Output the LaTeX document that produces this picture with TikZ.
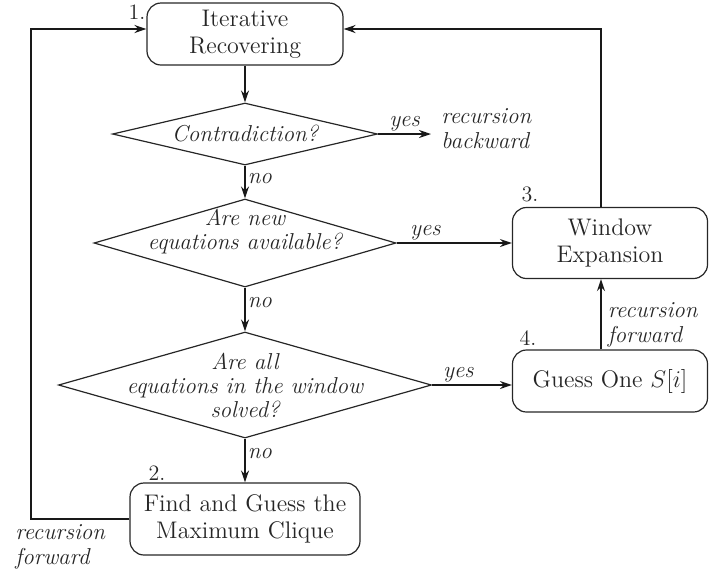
\documentclass[tikz,border=0pt]{standalone}
\usepackage{amsmath}
\usepackage{tikz}
\usetikzlibrary{shapes.geometric,arrows.meta}

\begin{document}
\begin{tikzpicture}[x=0.5pt,y=-0.5pt,
    every node/.style={font=\fontsize{12}{13.5}\selectfont, text=black!85},
    stepbox/.style={draw=black!85, rounded corners=7pt, line width=0.6pt, align=center, inner sep=0pt},
    decision/.style={draw=black!85, diamond, line width=0.6pt, inner sep=0pt},
    qtext/.style={font=\fontsize{11.5}{12}\selectfont\itshape, align=center, inner sep=0pt},
    tag/.style={font=\fontsize{11.5}{12.5}\selectfont\itshape, align=left, inner sep=1pt},
    num/.style={font=\fontsize{11}{12}\selectfont, inner sep=0pt},
    flow/.style={draw=black!90, -{Stealth[length=6pt,width=4pt]}, line width=0.8pt}]
        \useasboundingbox (0,0) rectangle (712,575);
        % Steps
        \node[stepbox, minimum width=98pt, minimum height=31pt] (iter) at (245,34) {Iterative\\Recovering};
        \node[stepbox, minimum width=115pt, minimum height=36pt] (clique) at (245,519) {Find and Guess the\\Maximum Clique};
        \node[stepbox, minimum width=97.5pt, minimum height=35.5pt] (window) at (610,243) {Window\\Expansion};
        \node[stepbox, minimum width=97.5pt, minimum height=31pt] (guess) at (610,381) {Guess One $S[i]$};
        \node[num] (n1) at (137,12) {1.};
        \node[num] (n2) at (157,473) {2.};
        \node[num] (n3) at (530,194) {3.};
        \node[num] (n4) at (528,338) {4.};
        % Decisions
        \node[decision, minimum width=132.5pt, minimum height=31pt] (q1) at (245,134) {};
        \node[qtext] (q1t) at (q1) {Contradiction?};
        \node[decision, minimum width=151pt, minimum height=44pt] (q2) at (245,243) {};
        \node[qtext] (q2t) at (245,232) {Are new\\equations available?};
        \node[decision, minimum width=186.5pt, minimum height=53pt] (q3) at (245,385) {};
        \node[qtext] (q3t) at (q3) {Are all\\equations in the window\\solved?};
        \node[tag, anchor=west] (back) at (439,129) {recursion\\backward};
        \coordinate (backend) at (431,134);
        %Arrows
        \draw[flow] (iter) -- (q1);
        \draw[flow] (q1.east) -- (backend) node[tag, midway, above] {yes};
        \draw[flow] (q1) -- (q2) node[tag, pos=0.4, right] {no};
        \draw[flow] (q2.east) -- (window.west) node[tag, pos=0.25, above] {yes};
        \draw[flow] (q2) -- (q3) node[tag, pos=0.35, right] {no};
        \draw[flow] (q3.east) -- (q3.east -| guess.west) node[tag, pos=0.33, above] {yes};
        \draw[flow] (q3) -- (clique) node[tag, pos=0.35, right] {no};
        \draw[flow] ([xshift=-4.5pt]guess.north) -- ([xshift=-4.5pt]window.south)
        node[tag, pos=0.35, right, xshift=2pt] {recursion\\forward};
        % Loops
        \draw[flow, line width=1pt] ([xshift=-4.5pt]window.north) |- ([yshift=2.5pt]iter.east);
        \draw[flow, line width=1pt] (clique.west) -- ++(-98,0) |- ([yshift=2.5pt]iter.west);
        \node[tag, anchor=west] (fwd) at (13,547) {recursion\\forward};
      \end{tikzpicture}
\end{document}
